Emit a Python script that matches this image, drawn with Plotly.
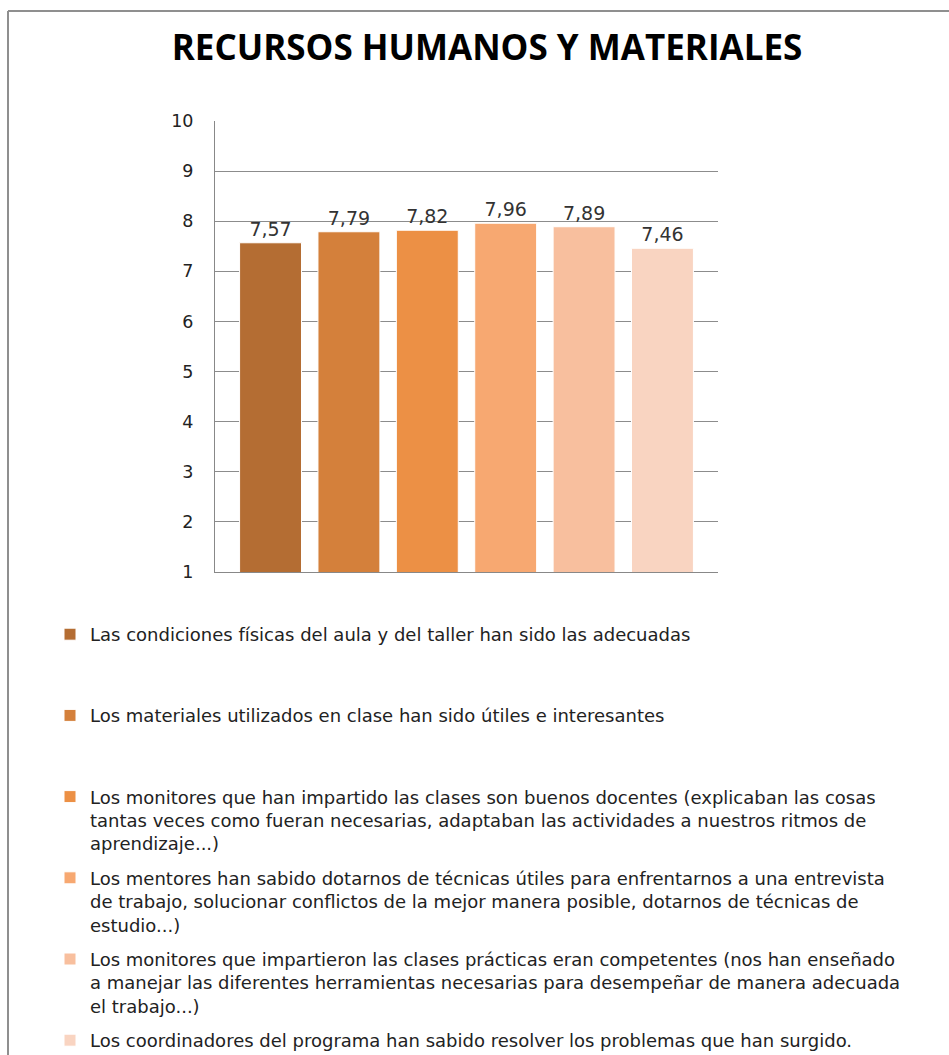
import plotly.graph_objects as go

W, H = 949, 1055
title = "RECURSOS HUMANOS Y MATERIALES"
category = [""]
series_names = [
    "Las condiciones físicas del aula y del taller han sido las adecuadas<br> <br> ",
    "Los materiales utilizados en clase han sido útiles e interesantes<br> <br> ",
    "Los monitores que han impartido las clases son buenos docentes (explicaban las cosas<br>tantas veces como fueran necesarias, adaptaban las actividades a nuestros ritmos de<br>aprendizaje...)",
    "Los mentores han sabido dotarnos de técnicas útiles para enfrentarnos a una entrevista<br>de trabajo, solucionar conflictos de la mejor manera posible, dotarnos de técnicas de<br>estudio...)",
    "Los monitores que impartieron las clases prácticas eran competentes (nos han enseñado<br>a manejar las diferentes herramientas necesarias para desempeñar de manera adecuada<br>el trabajo...)",
    "Los coordinadores del programa han sabido resolver los problemas que han surgido.",
]
values = [7.57, 7.79, 7.82, 7.96, 7.89, 7.46]
colors = ["#B46D33", "#D4803B", "#EC9045", "#F7A871", "#F8BF9E", "#F9D4C1"]
y_ticks = [1, 2, 3, 4, 5, 6, 7, 8, 9, 10]

# layout geometry (pixels)
L, R, T, B = 215, 718, 121, 572

fig = go.Figure()
for i, (name, v, c) in enumerate(zip(series_names, values, colors)):
    fig.add_trace(go.Bar(
        x=category, y=[v], name=name, legendgroup=f"g{i}",
        marker=dict(color=c, line=dict(color="white", width=1)),
        text=[f"{v:.2f}".replace(".", ",")], textposition="outside",
        textfont=dict(family="DejaVu Sans", size=19, color="#333333"),
        cliponaxis=False,
    ))

def px_x(p):
    return (p - L) / (R - L)

def px_y(p):
    return (B - p) / (B - T)

fig.update_layout(
    width=W, height=H,
    margin=dict(l=L, r=W - R, t=T, b=H - B, autoexpand=False),
    paper_bgcolor="white", plot_bgcolor="white",
    barmode="group", bargap=0.065, bargroupgap=0.21,
    title=dict(text=title, x=487 / W, xanchor="center", y=1 - 48 / H, yanchor="middle",
               xref="container", yref="container",
               font=dict(family="Open Sans", size=35, color="black", weight="bold")),
    showlegend=True,
    legend=dict(
        xref="container", yref="container", x=50 / W, y=1 - 616 / H,
        xanchor="left", yanchor="top", valign="top",
        font=dict(family="DejaVu Sans", size=18, color="#222222"),
        tracegroupgap=8, maxheight=3000, traceorder="grouped",
        bgcolor="rgba(0,0,0,0)",
    ),
    xaxis=dict(showticklabels=False, showgrid=False, ticks="", showline=True,
               linecolor="#888888", linewidth=1),
    yaxis=dict(range=[1, 10], tickvals=y_ticks, showgrid=True, gridcolor="#8C8C8C",
               gridwidth=1, showline=True, linecolor="#888888", linewidth=1, ticks="",
               ticklabelstandoff=17, zeroline=False,
               tickfont=dict(family="DejaVu Sans", size=17.5, color="#222222")),
    font=dict(family="DejaVu Sans"),
    shapes=[
        dict(type="line", xref="paper", yref="paper", x0=px_x(8), x1=px_x(960),
             y0=px_y(11), y1=px_y(11), line=dict(color="#8F8F8F", width=2)),
        dict(type="line", xref="paper", yref="paper", x0=px_x(8), x1=px_x(8),
             y0=px_y(11), y1=px_y(1070), line=dict(color="#8F8F8F", width=2)),
    ],
)

fig.write_html("out.html")
